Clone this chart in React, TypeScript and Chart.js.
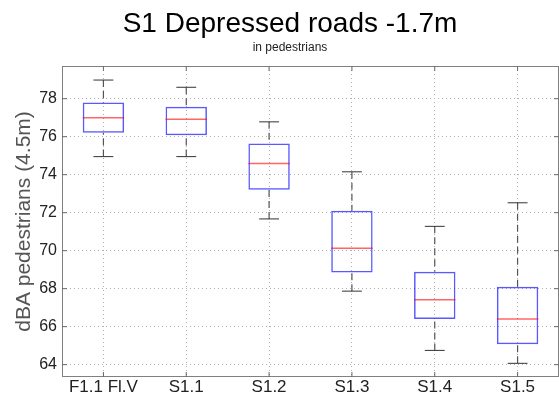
import { useEffect, useRef } from 'react';
import { Chart, registerables } from 'chart.js';

Chart.register(...registerables);

const categories = ['F1.1 Fl.V', 'S1.1', 'S1.2', 'S1.3', 'S1.4', 'S1.5'];
const whiskerLow = [74.95, 74.95, 71.67, 67.87, 64.75, 64.07];
const q1 = [76.2, 76.08, 73.2, 68.85, 66.4, 65.07];
const median = [77.0, 76.92, 74.59, 70.13, 67.42, 66.4];
const q3 = [77.8, 77.58, 75.64, 72.1, 68.89, 68.1];
const whiskerHigh = [78.98, 78.6, 76.78, 74.15, 71.28, 72.52];
const yTicks = [64, 66, 68, 70, 72, 74, 76, 78];

const FONT = "'Liberation Sans', Arial, sans-serif";

const boxPlugin = {
  id: 'boxExtras',
  afterLayout(chart: any) {
    for (const b of chart.boxes) {
      if (b && b.options && b.options.position === 'top' && typeof b.options.text === 'string') {
        b.left = 21;
        b.right = 559;
      }
    }
  },
  afterDatasetsDraw(chart: any) {
    const { ctx, chartArea } = chart;
    const x = chart.scales.x;
    const y = chart.scales.y;
    const catW = (x.right - x.left) / categories.length;
    const halfBox = catW * 0.25;
    const halfCap = catW * 0.12;
    ctx.save();
    categories.forEach((_, i) => {
      const cx = x.getPixelForValue(i);
      // whiskers
      ctx.setLineDash([7, 4]);
      ctx.strokeStyle = '#555555';
      ctx.lineWidth = 1.2;
      ctx.beginPath();
      ctx.moveTo(cx, y.getPixelForValue(whiskerHigh[i]));
      ctx.lineTo(cx, y.getPixelForValue(q3[i]));
      ctx.moveTo(cx, y.getPixelForValue(whiskerLow[i]));
      ctx.lineTo(cx, y.getPixelForValue(q1[i]));
      ctx.stroke();
      // caps
      ctx.setLineDash([]);
      ctx.strokeStyle = '#333333';
      ctx.lineWidth = 1;
      ctx.beginPath();
      const yh = y.getPixelForValue(whiskerHigh[i]);
      const yl = y.getPixelForValue(whiskerLow[i]);
      ctx.moveTo(cx - halfCap, yh);
      ctx.lineTo(cx + halfCap, yh);
      ctx.moveTo(cx - halfCap, yl);
      ctx.lineTo(cx + halfCap, yl);
      ctx.stroke();
      // median
      ctx.strokeStyle = 'rgba(255,0,0,0.6)';
      ctx.lineWidth = 1.5;
      ctx.beginPath();
      const ym = y.getPixelForValue(median[i]);
      ctx.moveTo(cx - halfBox, ym);
      ctx.lineTo(cx + halfBox, ym);
      ctx.stroke();
    });
    // frame
    ctx.strokeStyle = '#808080';
    ctx.lineWidth = 1;
    ctx.strokeRect(chartArea.left + 0.5, chartArea.top + 0.5, chartArea.right - chartArea.left - 1, chartArea.bottom - chartArea.top - 1);
    // inner tick marks
    ctx.strokeStyle = '#666666';
    ctx.beginPath();
    yTicks.forEach((v) => {
      const py = y.getPixelForValue(v);
      ctx.moveTo(chartArea.left, py);
      ctx.lineTo(chartArea.left + 5, py);
      ctx.moveTo(chartArea.right, py);
      ctx.lineTo(chartArea.right - 5, py);
    });
    categories.forEach((_, i) => {
      const px = x.getPixelForValue(i);
      ctx.moveTo(px, chartArea.bottom);
      ctx.lineTo(px, chartArea.bottom - 5);
      ctx.moveTo(px, chartArea.top);
      ctx.lineTo(px, chartArea.top + 5);
    });
    ctx.stroke();
    ctx.restore();
  },
};

export default function App() {
  const ref = useRef<HTMLCanvasElement>(null);
  useEffect(() => {
    document.body.style.margin = '0';
    const chart = new Chart(ref.current as HTMLCanvasElement, {
      type: 'bar',
      data: {
        labels: categories,
        datasets: [
          {
            data: categories.map((_, i) => [q1[i], q3[i]]) as any,
            backgroundColor: 'rgba(0,0,0,0)',
            borderColor: 'rgba(0,0,255,0.65)',
            borderWidth: 1.5,
            borderSkipped: false,
            barPercentage: 0.5,
            categoryPercentage: 1,
          },
        ],
      },
      options: {
        responsive: false,
        animation: false,
        layout: { padding: { left: 0, right: -1, top: 0, bottom: 0 } },
        plugins: {
          legend: { display: false },
          tooltip: { enabled: false },
          title: {
            display: true,
            text: 'S1 Depressed roads -1.7m',
            color: '#000000',
            font: { family: FONT, size: 28, weight: 'normal', lineHeight: 1.2 },
            padding: { top: 7, bottom: 0 },
          },
          subtitle: {
            display: true,
            text: 'in pedestrians',
            color: '#222222',
            font: { family: FONT, size: 12, weight: 'normal', lineHeight: 1.2 },
            padding: { top: 0, bottom: 11 },
          },
        },
        scales: {
          x: {
            type: 'category',
            offset: true,
            grid: { display: true, offset: false, drawTicks: false, color: '#b0b0b0', lineWidth: 1 },
            border: { display: false, dash: [1, 3] },
            ticks: { color: '#222222', font: { family: FONT, size: 17 }, padding: 0, maxRotation: 0, autoSkip: false },
            afterFit: (s: any) => {
              s.height = 22;
            },
          },
          y: {
            type: 'linear',
            min: 63.35,
            max: 79.72,
            afterBuildTicks: (s: any) => {
              s.ticks = yTicks.map((v) => ({ value: v }));
            },
            grid: { display: true, drawTicks: false, color: '#b0b0b0', lineWidth: 1 },
            border: { display: false, dash: [1, 3] },
            ticks: { color: '#222222', font: { family: FONT, size: 16 }, padding: 5 },
            title: {
              display: true,
              text: 'dBA pedestrians (4.5m)',
              color: '#555555',
              font: { family: FONT, size: 21, lineHeight: 1.2 },
              padding: { top: 12, bottom: 0 },
            },
            afterFit: (s: any) => {
              s.width = 62;
            },
          },
        },
      },
      plugins: [boxPlugin],
    });
    return () => chart.destroy();
  }, []);
  return (
    <div style={{ width: 559, height: 399 }}>
      <canvas ref={ref} width={559} height={399} style={{ display: 'block' }} />
    </div>
  );
}
